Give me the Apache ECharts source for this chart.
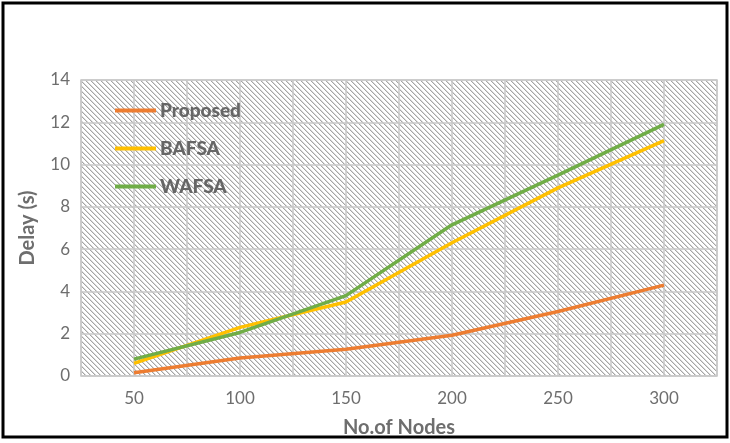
<!DOCTYPE html>
<html><head><meta charset="utf-8">
<script src="https://cdn.jsdelivr.net/npm/echarts@6/dist/echarts.min.js"></script>
<style>html,body{margin:0;padding:0;background:#fff}#c{width:730px;height:443px}</style>
</head><body><div id="c"></div>
<script>
var nodes = [50, 100, 150, 200, 250, 300];
var proposed = [0.15, 0.85, 1.27, 1.93, 3.05, 4.3];
var bafsa = [0.6, 2.3, 3.5, 6.3, 8.9, 11.13];
var wafsa = [0.8, 2.06, 3.8, 7.15, 9.5, 11.9];
var yTicks = [0, 2, 4, 6, 8, 10, 12, 14];

function pair(xs, ys){ return xs.map(function(x,i){return [x, ys[i]];}); }

var P = 5;
var pc = document.createElement('canvas');
pc.width = P; pc.height = P;
var g = pc.getContext('2d');
var img = g.createImageData(P, P);
for (var y = 0; y < P; y++) for (var x = 0; x < P; x++) {
  var m = ((x - y) % P + P) % P;
  var c = m === 0 ? 165 : (m === 1 ? 218 : 255);
  var i = (y * P + x) * 4;
  img.data[i] = c; img.data[i+1] = c; img.data[i+2] = c; img.data[i+3] = 255;
}
g.putImageData(img, 0, 0);

var font = 'Lato, "Open Sans", sans-serif';
var chart = echarts.init(document.getElementById('c'), null, {renderer:'canvas'});
chart.setOption({
  animation: false,
  grid: {left: 81, right: 13, top: 80, bottom: 66, show: true,
         backgroundColor: {image: pc, repeat: 'repeat'}, borderColor: '#c8c8c8', borderWidth: 1.5},
  legend: {
    orient: 'vertical', left: 115, top: 101, itemGap: 19, padding: 0,
    icon: 'rect', itemWidth: 41, itemHeight: 4,
    textStyle: {fontFamily: font, fontWeight: 900, fontSize: 19, color: '#666666', padding: [0,0,0,-1]},
    data: ['Proposed', 'BAFSA', 'WAFSA']
  },
  xAxis: {
    type: 'value', min: 25, max: 325, interval: 25,
    name: 'No.of Nodes', nameLocation: 'middle', nameGap: 42,
    nameTextStyle: {fontFamily: font, fontWeight: 'bold', fontSize: 20, color: '#6e6e6e'},
    axisLine: {show: false}, axisTick: {show: false},
    axisLabel: {fontFamily: font, fontSize: 17, color: '#6e6e6e', margin: 14,
      formatter: function(v){ return nodes.indexOf(v) >= 0 ? String(v) : ''; }},
    splitLine: {show: true, lineStyle: {color: '#c8c8c8', width: 1.5}}
  },
  yAxis: {
    type: 'value', min: yTicks[0], max: yTicks[yTicks.length-1], interval: 2,
    name: 'Delay (s)', nameLocation: 'middle', nameGap: 43, nameRotate: 90,
    nameTextStyle: {fontFamily: font, fontWeight: 'bold', fontSize: 20, color: '#6e6e6e'},
    axisLine: {show: false}, axisTick: {show: false},
    axisLabel: {fontFamily: font, fontSize: 17, color: '#6e6e6e', margin: 11},
    splitLine: {show: true, lineStyle: {color: '#c8c8c8', width: 1.5}}
  },
  series: [
    {name: 'Proposed', type: 'line', data: pair(nodes, proposed), symbol: 'none',
     lineStyle: {color: '#ed7d31', width: 3.5}, itemStyle: {color: '#ed7d31'}},
    {name: 'BAFSA', type: 'line', data: pair(nodes, bafsa), symbol: 'none',
     lineStyle: {color: '#ffc000', width: 3.5}, itemStyle: {color: '#ffc000'}},
    {name: 'WAFSA', type: 'line', data: pair(nodes, wafsa), symbol: 'none',
     lineStyle: {color: '#70ad47', width: 3.5}, itemStyle: {color: '#70ad47'}}
  ],
  graphic: [{type: 'rect', shape: {x: 3, y: 3, width: 724, height: 434},
    style: {fill: 'none', stroke: '#000', lineWidth: 3}, silent: true, z: 100}]
});
</script></body></html>
